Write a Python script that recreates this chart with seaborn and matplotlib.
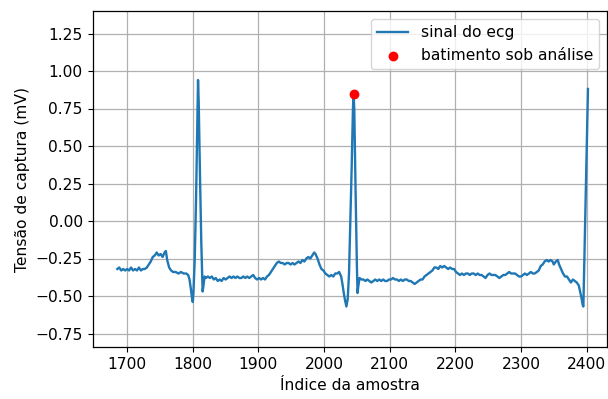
import matplotlib
matplotlib.use("Agg")
import matplotlib.pyplot as plt
import seaborn as sns
import pandas as pd

# ECG samples (sample index, voltage in mV)
indices = [
    1685, 1688, 1691, 1694, 1697, 1700, 1703, 1706, 1709, 1712, 1715, 1718, 1721, 1724, 1727,
    1730, 1733, 1736, 1739, 1742, 1745, 1748, 1751, 1754, 1757, 1759, 1761, 1764, 1767, 1770,
    1774, 1778, 1782, 1786, 1790, 1793, 1795, 1797, 1799, 1800, 1801, 1803, 1805, 1807, 1808,
    1809, 1811, 1813, 1815, 1816, 1818,
    1820, 1823, 1826, 1829, 1832, 1835, 1838, 1841, 1844, 1847, 1850, 1853, 1856, 1859, 1862,
    1865, 1868, 1871, 1874, 1877, 1880, 1883, 1886, 1889, 1892, 1895, 1898, 1901, 1904, 1907,
    1910, 1913, 1916, 1919, 1922, 1925, 1928, 1931, 1934, 1937, 1940, 1943, 1946, 1949, 1952,
    1955, 1958, 1961, 1964, 1967, 1970, 1973, 1976, 1979, 1982, 1985, 1987, 1990, 1993, 1996,
    1999, 2002, 2005, 2008, 2011, 2014, 2017, 2020, 2023, 2026, 2028, 2030, 2032, 2034, 2036,
    2038, 2040, 2042, 2044, 2045, 2046, 2048, 2050, 2051, 2052, 2054, 2057,
    2060, 2063, 2066, 2069, 2072, 2075, 2078, 2081, 2084, 2087, 2090, 2093, 2096, 2099, 2102,
    2105, 2108, 2111, 2114, 2117, 2120, 2123, 2126, 2129, 2132, 2135, 2138, 2141, 2144, 2147,
    2150, 2153, 2156, 2159, 2162, 2165, 2168, 2171, 2174, 2177, 2180, 2183, 2186, 2189, 2192,
    2195, 2198, 2201, 2204, 2207, 2210, 2213, 2216, 2219, 2222, 2225, 2228, 2231, 2234, 2237,
    2240, 2243, 2246, 2249, 2252, 2255, 2258, 2261, 2264, 2267, 2270, 2273, 2276, 2279, 2282,
    2285, 2288, 2291, 2294, 2297, 2300, 2303, 2306, 2309, 2312, 2315, 2318, 2321, 2324, 2327,
    2330, 2333, 2336, 2339, 2342, 2345, 2348, 2350, 2353, 2356, 2358, 2361, 2364, 2367, 2370,
    2373, 2376, 2379, 2382, 2385, 2388, 2390, 2392, 2394, 2395, 2397, 2399, 2401, 2402,
]
voltages = [
    -0.32, -0.31, -0.33, -0.32, -0.33, -0.32, -0.33, -0.31, -0.33, -0.32, -0.33, -0.31, -0.33, -0.32, -0.32,
    -0.31, -0.29, -0.27, -0.24, -0.23, -0.21, -0.23, -0.22, -0.24, -0.21, -0.20, -0.26, -0.31, -0.33, -0.34,
    -0.34, -0.35, -0.34, -0.35, -0.35, -0.36, -0.39, -0.45, -0.52, -0.54, -0.48, -0.25, 0.15, 0.70, 0.94,
    0.80, 0.30, -0.15, -0.47, -0.44, -0.37,
    -0.38, -0.37, -0.38, -0.37, -0.39, -0.38, -0.40, -0.39, -0.40, -0.38, -0.39, -0.38, -0.37, -0.38, -0.37,
    -0.38, -0.37, -0.38, -0.38, -0.37, -0.38, -0.37, -0.38, -0.37, -0.36, -0.38, -0.39, -0.38, -0.39, -0.38,
    -0.39, -0.37, -0.36, -0.34, -0.32, -0.30, -0.28, -0.27, -0.28, -0.28, -0.29, -0.28, -0.28, -0.29, -0.28,
    -0.29, -0.28, -0.27, -0.28, -0.26, -0.27, -0.25, -0.24, -0.25, -0.23, -0.21, -0.22, -0.25, -0.29, -0.32,
    -0.33, -0.35, -0.36, -0.37, -0.36, -0.37, -0.35, -0.35, -0.34, -0.37, -0.42, -0.48, -0.53, -0.57, -0.52,
    -0.35, 0.00, 0.35, 0.75, 0.845, 0.75, 0.20, -0.30, -0.48, -0.44, -0.38, -0.39,
    -0.39, -0.40, -0.39, -0.40, -0.41, -0.40, -0.39, -0.40, -0.39, -0.40, -0.39, -0.40, -0.40, -0.39, -0.39,
    -0.38, -0.39, -0.39, -0.40, -0.39, -0.40, -0.39, -0.39, -0.40, -0.40, -0.41, -0.42, -0.41, -0.40, -0.39,
    -0.39, -0.37, -0.36, -0.35, -0.34, -0.33, -0.31, -0.31, -0.32, -0.30, -0.31, -0.30, -0.31, -0.32, -0.31,
    -0.32, -0.32, -0.34, -0.35, -0.36, -0.35, -0.36, -0.35, -0.35, -0.36, -0.35, -0.35, -0.36, -0.35, -0.36,
    -0.36, -0.37, -0.38, -0.36, -0.35, -0.36, -0.36, -0.36, -0.37, -0.38, -0.37, -0.36, -0.36, -0.35, -0.34,
    -0.35, -0.35, -0.35, -0.36, -0.37, -0.37, -0.36, -0.35, -0.36, -0.35, -0.34, -0.35, -0.35, -0.34, -0.33,
    -0.30, -0.29, -0.27, -0.26, -0.27, -0.26, -0.27, -0.29, -0.27, -0.26, -0.29, -0.32, -0.35, -0.37, -0.37,
    -0.39, -0.41, -0.39, -0.40, -0.41, -0.43, -0.47, -0.51, -0.56, -0.57, -0.16, 0.26, 0.67, 0.88,
]

beat_index = [2045]
beat_voltage = [0.845]

x_label = "Índice da amostra"
y_label = "Tensão de captura (mV)"
line_label = "sinal do ecg"
beat_label = "batimento sob análise"

plt.rcParams.update({
    "font.size": 11.2,
    "xtick.major.size": 3.9,
    "ytick.major.size": 3.9,
    "axes.linewidth": 0.9,
})

df = pd.DataFrame({"idx": indices, "v": voltages})
beat_df = pd.DataFrame({"idx": beat_index, "v": beat_voltage})

fig = plt.figure(figsize=(6.08, 3.99), dpi=100)
ax = fig.add_axes([93 / 608, 1 - 347 / 399, (607 - 93) / 608, (347 - 11) / 399])

sns.lineplot(data=df, x="idx", y="v", ax=ax, color="#1f77b4", linewidth=1.7,
             label=line_label, zorder=2)
sns.scatterplot(data=beat_df, x="idx", y="v", ax=ax, color="red", s=50,
                edgecolor="red", linewidth=0, label=beat_label, zorder=3)

ax.set_xlim(1648, 2431)
ax.set_ylim(-0.84, 1.40)
ax.set_xticks([1700, 1800, 1900, 2000, 2100, 2200, 2300, 2400])
ax.set_yticks([-0.75, -0.5, -0.25, 0.0, 0.25, 0.5, 0.75, 1.0, 1.25])
ax.set_xlabel(x_label)
ax.set_ylabel(y_label)
ax.grid(True, color="#b0b0b0", linewidth=0.9)
ax.set_axisbelow(True)
ax.legend(loc="upper right")

fig.savefig("out.png", dpi=100)
